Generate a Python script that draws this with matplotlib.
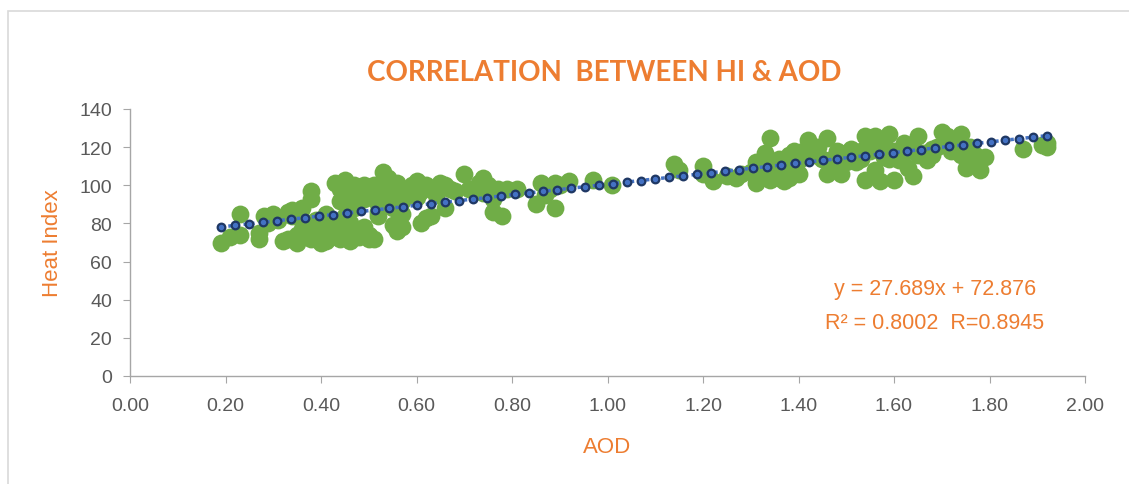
import numpy as np
import matplotlib.pyplot as plt
from matplotlib.patches import Rectangle

# AOD / Heat Index pairs
aod = [
    0.19, 0.21, 0.23, 0.23, 0.27, 0.27, 0.28, 0.29, 0.30, 0.31, 0.32, 0.33, 0.33, 0.34,
    0.35, 0.35, 0.36, 0.36, 0.37, 0.38, 0.38, 0.38, 0.39, 0.39, 0.40, 0.40, 0.41, 0.41,
    0.42, 0.42, 0.43, 0.43, 0.44, 0.44, 0.45, 0.45, 0.45, 0.46, 0.46, 0.47, 0.47, 0.47,
    0.48, 0.48, 0.49, 0.49, 0.50, 0.50, 0.51, 0.51, 0.52, 0.52, 0.53, 0.53, 0.53, 0.54,
    0.54, 0.55, 0.55, 0.56, 0.56, 0.56, 0.57, 0.57, 0.58, 0.59, 0.60, 0.60, 0.61, 0.61,
    0.62, 0.62, 0.63, 0.63, 0.64, 0.65, 0.66, 0.66, 0.67, 0.68, 0.70, 0.71, 0.73, 0.74,
    0.74, 0.75, 0.76, 0.76, 0.77, 0.78, 0.79, 0.81, 0.85, 0.86, 0.87, 0.88, 0.89, 0.89,
    0.90, 0.92, 0.97, 1.01, 1.14, 1.15, 1.20, 1.20, 1.22, 1.25, 1.27, 1.28, 1.30, 1.31,
    1.31, 1.32, 1.33, 1.33, 1.34, 1.34, 1.35, 1.35, 1.36, 1.37, 1.37, 1.38, 1.38, 1.39,
    1.39, 1.40, 1.40, 1.42, 1.43, 1.44, 1.45, 1.46, 1.46, 1.47, 1.48, 1.49, 1.50, 1.51,
    1.52, 1.53, 1.54, 1.54, 1.55, 1.56, 1.56, 1.57, 1.58, 1.58, 1.59, 1.60, 1.60, 1.61,
    1.62, 1.63, 1.64, 1.65, 1.65, 1.66, 1.67, 1.68, 1.69, 1.70, 1.71, 1.72, 1.73, 1.74,
    1.74, 1.75, 1.76, 1.77, 1.78, 1.78, 1.79, 1.87, 1.91, 1.92, 1.92,
    0.37, 0.39, 0.41, 0.43, 0.44, 0.46, 0.48, 0.50, 0.52, 0.54, 0.55, 0.57, 0.58, 0.59,
    0.44, 0.47, 0.49, 0.51, 0.53, 0.36, 0.34, 1.32, 1.34, 1.36, 1.38, 1.41, 1.44, 1.47,
    1.50, 1.53, 1.57, 1.59, 1.62, 1.64, 1.68, 1.72, 1.75,
]
heat_index = [
    70, 73, 85, 74, 72, 75, 84, 80, 85, 82, 71, 72, 86, 87,
    70, 74, 77, 88, 80, 93, 97, 72, 75, 82, 70, 78, 85, 71,
    73, 80, 101, 76, 92, 72, 103, 96, 84, 80, 71, 100, 88, 75,
    95, 73, 100, 78, 97, 74, 100, 72, 90, 84, 107, 96, 93, 104,
    99, 88, 79, 101, 95, 76, 92, 78, 98, 100, 102, 94, 97, 80,
    83, 100, 98, 84, 95, 101, 100, 88, 98, 97, 106, 98, 101, 104,
    96, 100, 93, 86, 98, 84, 98, 98, 90, 101, 95, 98, 101, 88,
    100, 102, 103, 100, 111, 108, 110, 106, 102, 105, 104, 106, 107, 112,
    101, 104, 117, 110, 125, 103, 112, 106, 114, 108, 102, 116, 104, 118,
    110, 113, 106, 124, 116, 120, 114, 125, 106, 110, 118, 106, 117, 119,
    112, 114, 126, 103, 118, 126, 108, 102, 124, 115, 127, 118, 103, 113,
    122, 109, 105, 126, 116, 117, 113, 119, 120, 128, 126, 118, 124, 127,
    116, 109, 120, 116, 113, 108, 115, 119, 121, 120, 122,
    74, 72, 76, 79, 77, 74, 76, 72, 86, 93, 96, 85, 95, 97,
    98, 91, 93, 96, 102, 82, 84, 108, 106, 104, 112, 118, 116, 114,
    112, 118, 120, 114, 117, 120, 116, 122, 118,
]
slope, intercept = 27.689, 72.876
x_ticks = [0.0, 0.2, 0.4, 0.6, 0.8, 1.0, 1.2, 1.4, 1.6, 1.8, 2.0]
y_ticks = [0, 20, 40, 60, 80, 100, 120, 140]

ORANGE = "#ED7D31"
GREEN = "#70AD47"
GREY_TXT = "#595959"

plt.rcParams["font.family"] = ["Liberation Sans", "DejaVu Sans"]
fig = plt.figure(figsize=(11.29, 4.85), dpi=100)
ax = fig.add_axes([130 / 1129, 1 - 377 / 485, (1085 - 130) / 1129, (377 - 110) / 485])

# chart area border
fig.patches.append(Rectangle((8 / 1129, -0.1), 1.2, 1.1 - 12 / 485,
                             transform=fig.transFigure, fill=False,
                             edgecolor="#D9D9D9", linewidth=1.2))

ax.scatter(aod, heat_index, s=165, color=GREEN, zorder=2, linewidths=0)

# linear trendline, dotted with circle markers
xt = np.linspace(min(aod), max(aod), 60)
ax.plot(xt, slope * xt + intercept, linestyle=(0, (1, 1.2)), color="#4472C4",
        linewidth=2.5, marker="o", markersize=5.5, markerfacecolor="#4472C4",
        markeredgecolor="#1F3864", markeredgewidth=1.6, zorder=3)

ax.set_xlim(0, 2)
ax.set_ylim(0, 140)
ax.set_xticks(x_ticks)
ax.set_xticklabels([f"{v:.2f}" for v in x_ticks])
ax.set_yticks(y_ticks)
for s in ["top", "right"]:
    ax.spines[s].set_visible(False)
for s in ["left", "bottom"]:
    ax.spines[s].set_color("#A6A6A6")
    ax.spines[s].set_linewidth(1.0)
ax.tick_params(colors="#A6A6A6", labelcolor=GREY_TXT, labelsize=14, length=5,
               direction="out")
ax.tick_params(axis="x", pad=10)
ax.tick_params(axis="y", pad=8)

ax.set_xlabel("AOD", color=ORANGE, fontsize=16, labelpad=16)
ax.set_ylabel("Heat Index", color=ORANGE, fontsize=16, labelpad=12)
fig.text(604 / 1129, 1 - 73 / 485, "CORRELATION  BETWEEN HI & AOD", color=ORANGE,
         fontsize=20, fontweight="bold", ha="center", va="center",
         family=["Lato", "DejaVu Sans"])
ax.text(1.685, 46, "y = 27.689x + 72.876", color=ORANGE, fontsize=15.5,
        ha="center", va="center")
ax.text(1.685, 28, "R² = 0.8002  R=0.8945", color=ORANGE, fontsize=15.5,
        ha="center", va="center")

fig.savefig("out.png", dpi=100)
